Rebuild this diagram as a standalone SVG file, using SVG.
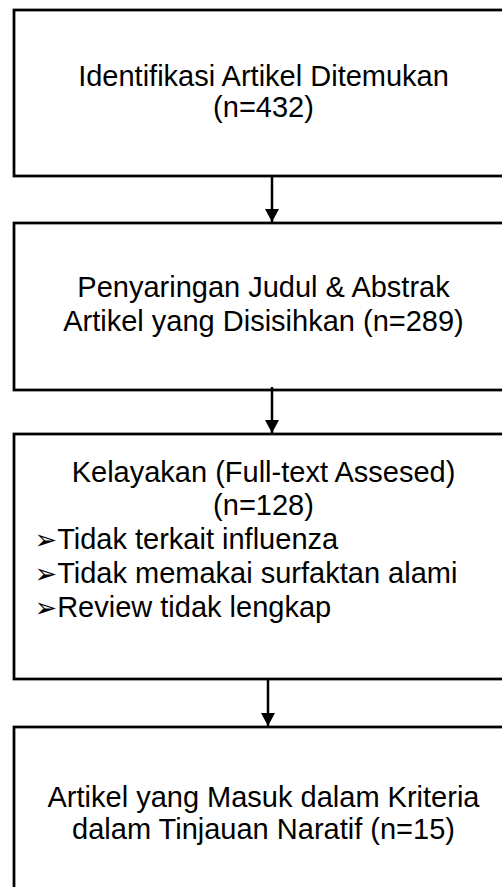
<svg xmlns="http://www.w3.org/2000/svg" width="502" height="887" viewBox="0 0 502 887">
<defs>
<style>
.box{fill:#fff;stroke:#000;stroke-width:2.75}
.t{font-family:"Liberation Sans",Arial,sans-serif;font-size:29px;fill:#000;text-anchor:middle}
.l{font-family:"Liberation Sans",Arial,sans-serif;font-size:29px;fill:#000}
.b{font-family:"DejaVu Sans",sans-serif;font-size:27px}
.c{stroke:#000;stroke-width:2.5;fill:none}
</style>
<marker id="ah" markerWidth="15" markerHeight="14" refX="14" refY="7.5" orient="auto" markerUnits="userSpaceOnUse" viewBox="0 0 14 15">
<path d="M0,0 L14,7.5 L0,15 z" fill="#000"/>
</marker>
</defs>
<rect width="502" height="887" fill="#fff"/>
<g id="n1"><rect class="box" x="14" y="10" width="499" height="166"/>
<text class="t" x="263.5" y="86">Identifikasi Artikel Ditemukan</text>
<text class="t" x="263.5" y="117">(n=432)</text></g>
<g id="n2"><rect class="box" x="14" y="223" width="499" height="167"/>
<text class="t" x="263.5" y="297">Penyaringan Judul &amp; Abstrak</text>
<text class="t" x="263.5" y="331">Artikel yang Disisihkan (n=289)</text></g>
<g id="n3"><rect class="box" x="14" y="434" width="499" height="245"/>
<text class="t" x="263.5" y="482">Kelayakan (Full-text Assesed)</text>
<text class="t" x="263.5" y="515">(n=128)</text>
<text class="l" x="34.5" y="549"><tspan class="b">➢</tspan>Tidak terkait influenza</text>
<text class="l" x="34.5" y="583"><tspan class="b">➢</tspan>Tidak memakai surfaktan alami</text>
<text class="l" x="34.5" y="617"><tspan class="b">➢</tspan>Review tidak lengkap</text></g>
<g id="n4"><rect class="box" x="14" y="727" width="499" height="177"/>
<text class="t" x="263.5" y="807">Artikel yang Masuk dalam Kriteria</text>
<text class="t" x="263.5" y="839">dalam Tinjauan Naratif (n=15)</text></g>
<g id="connectors">
<line class="c" x1="272" y1="176" x2="272" y2="222" marker-end="url(#ah)"/>
<line class="c" x1="272" y1="387" x2="272" y2="433" marker-end="url(#ah)"/>
<line class="c" x1="268" y1="679" x2="268" y2="726" marker-end="url(#ah)"/>
</g>
</svg>
